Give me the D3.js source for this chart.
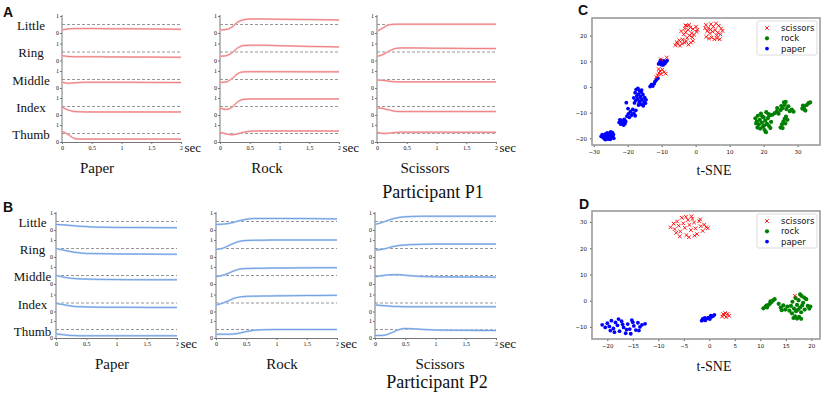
<!DOCTYPE html>
<html lang="en">
<head>
<meta charset="utf-8">
<title>Finger signals and t-SNE</title>
<script src="https://d3js.org/d3.v7.min.js"></script>
<style>
  body { margin: 0; background: #fff; }
  svg text { font-family: "Liberation Serif", "Times New Roman", serif; fill: #111; }
</style>
</head>
<body>
<script>

// ---- data: finger signals (values 0..1, sampled at times) ----
const times = [0, 0.1, 0.2, 0.3, 0.4, 0.5, 0.6, 0.8, 1, 1.5, 2];
const fingers = ["Little", "Ring", "Middle", "Index", "Thumb"];
const gestures = ["Paper", "Rock", "Scissors"];
const timeTicks = [0, 0.5, 1, 1.5, 2];
const threshold = 0.5;

const p1Paper = [
  [0.18, 0.24, 0.26, 0.26, 0.26, 0.26, 0.26, 0.25, 0.25, 0.24, 0.22],
  [0.28, 0.24, 0.22, 0.22, 0.22, 0.22, 0.22, 0.21, 0.21, 0.20, 0.19],
  [0.34, 0.28, 0.30, 0.33, 0.34, 0.34, 0.34, 0.34, 0.34, 0.33, 0.32],
  [0.45, 0.30, 0.21, 0.19, 0.18, 0.18, 0.18, 0.18, 0.18, 0.18, 0.18],
  [0.62, 0.45, 0.22, 0.17, 0.17, 0.17, 0.17, 0.17, 0.17, 0.17, 0.17]
];
const p1Rock = [
  [0.18, 0.20, 0.35, 0.65, 0.78, 0.82, 0.82, 0.82, 0.81, 0.79, 0.77],
  [0.25, 0.28, 0.45, 0.75, 0.88, 0.90, 0.90, 0.89, 0.87, 0.83, 0.80],
  [0.33, 0.35, 0.55, 0.85, 0.95, 0.96, 0.96, 0.96, 0.96, 0.95, 0.95],
  [0.40, 0.33, 0.45, 0.78, 0.92, 0.94, 0.94, 0.94, 0.94, 0.94, 0.94],
  [0.57, 0.48, 0.42, 0.48, 0.58, 0.63, 0.65, 0.65, 0.65, 0.65, 0.64]
];
const p1Scissors = [
  [0.10, 0.30, 0.48, 0.52, 0.52, 0.52, 0.52, 0.52, 0.52, 0.52, 0.52],
  [0.25, 0.35, 0.55, 0.70, 0.74, 0.74, 0.74, 0.73, 0.72, 0.71, 0.70],
  [0.47, 0.45, 0.40, 0.37, 0.36, 0.36, 0.36, 0.36, 0.36, 0.36, 0.36],
  [0.42, 0.38, 0.30, 0.22, 0.20, 0.20, 0.20, 0.20, 0.20, 0.20, 0.20],
  [0.58, 0.50, 0.52, 0.56, 0.58, 0.58, 0.58, 0.58, 0.58, 0.57, 0.57]
];
const p2Paper = [
  [0.33, 0.31, 0.28, 0.25, 0.22, 0.20, 0.18, 0.16, 0.15, 0.14, 0.13],
  [0.50, 0.42, 0.35, 0.28, 0.24, 0.21, 0.20, 0.19, 0.18, 0.17, 0.16],
  [0.50, 0.42, 0.36, 0.32, 0.30, 0.29, 0.28, 0.27, 0.26, 0.25, 0.25],
  [0.47, 0.42, 0.35, 0.30, 0.28, 0.27, 0.26, 0.25, 0.25, 0.24, 0.24],
  [0.24, 0.20, 0.16, 0.14, 0.13, 0.13, 0.13, 0.13, 0.13, 0.13, 0.13]
];
const p2Rock = [
  [0.33, 0.34, 0.38, 0.46, 0.56, 0.63, 0.67, 0.68, 0.68, 0.67, 0.65],
  [0.45, 0.50, 0.65, 0.82, 0.93, 0.97, 0.98, 0.99, 1.00, 1.00, 1.00],
  [0.43, 0.50, 0.62, 0.78, 0.88, 0.91, 0.92, 0.93, 0.94, 0.95, 0.96],
  [0.38, 0.48, 0.62, 0.78, 0.86, 0.89, 0.90, 0.91, 0.92, 0.94, 0.95],
  [0.22, 0.22, 0.22, 0.24, 0.30, 0.38, 0.44, 0.49, 0.50, 0.50, 0.50]
];
const p2Scissors = [
  [0.33, 0.42, 0.55, 0.66, 0.74, 0.78, 0.80, 0.81, 0.81, 0.81, 0.81],
  [0.40, 0.44, 0.52, 0.62, 0.68, 0.71, 0.73, 0.75, 0.76, 0.76, 0.76],
  [0.43, 0.48, 0.53, 0.55, 0.55, 0.52, 0.48, 0.44, 0.42, 0.41, 0.40],
  [0.38, 0.36, 0.33, 0.30, 0.29, 0.28, 0.28, 0.28, 0.28, 0.28, 0.28],
  [0.15, 0.15, 0.20, 0.35, 0.50, 0.56, 0.55, 0.50, 0.47, 0.45, 0.44]
];

// ---- data: t-SNE embeddings ----
const cScissors = [
  [-11.6,3.8],[-11.2,4.6],[-10.8,5.4],[-10.5,6.2],[-10.2,5.0],[-9.8,6.8],[-10.9,7.0],[-9.3,5.8],[-8.8,5.2],
  [-8.5,11.5],[-10.2,10.8],
  [-6.0,16.3],[-5.3,16.8],[-4.6,16.1],[-4.0,16.9],[-3.3,17.3],[-5.6,17.5],[-4.8,18.2],[-3.8,18.5],[-2.8,17.8],
  [-2.1,16.5],[-1.4,17.3],[-0.8,18.0],[-2.5,19.2],[-1.8,20.1],[-3.5,20.5],[-2.9,21.3],[-1.2,21.0],[-0.5,20.4],
  [0.3,21.5],[-2.2,22.3],[-3.2,22.8],[-1.5,23.2],[-0.8,22.6],[0.1,23.5],[-2.6,23.9],[-1.0,19.4],[-4.2,21.8],
  [0.5,22.3],[-3.0,24.0],[-1.9,24.2],
  [3.0,24.2],[3.8,23.0],[4.5,24.5],[5.2,23.6],[6.0,24.8],[6.8,23.9],[7.5,22.8],[3.4,21.8],[4.2,20.9],[5.0,21.6],
  [5.8,22.2],[6.5,21.2],[7.3,20.5],[7.9,21.9],[3.1,19.6],[3.9,18.9],[4.7,19.3],[5.5,18.6],[6.3,19.0],[7.1,18.6],
  [4.4,22.4],[6.2,20.1],[2.8,22.9]
];
const cRock = [
  [17.6,-12.2],[18.0,-13.5],[18.3,-11.2],[18.6,-14.6],[18.9,-12.8],[19.2,-10.4],[19.5,-13.9],[19.8,-15.5],
  [20.0,-11.8],[20.3,-16.8],[20.5,-13.1],[20.8,-9.8],[21.0,-14.4],[21.3,-12.1],[21.6,-15.2],[21.9,-11.0],
  [22.2,-13.6],[19.0,-16.2],[20.7,-17.6],[18.2,-15.8],[21.5,-10.6],[19.6,-11.4],[17.8,-14.2],[20.2,-15.0],[22.0,-16.0],
  [22.6,-10.8],[23.3,-10.2],[23.9,-9.5],[24.4,-10.4],[25.0,-9.0],[25.6,-8.2],[26.2,-7.0],[26.0,-6.0],[26.7,-8.6],
  [27.3,-7.5],[27.7,-9.4],[28.3,-8.8],[28.8,-9.6],[25.2,-7.4],[26.5,-5.8],[24.0,-8.2],
  [25.0,-15.8],[25.4,-14.6],[25.8,-13.5],[26.2,-12.4],[26.6,-11.5],[27.0,-12.8],[25.6,-16.0],[26.4,-14.2],
  [31.4,-8.4],[31.9,-7.6],[32.3,-9.2],[32.7,-7.0],[33.2,-6.3],[33.7,-6.0],[32.0,-8.8],[31.6,-7.2]
];
const cPaper = [
  [-27.8,-19.2],[-27.3,-19.6],[-27.0,-18.8],[-26.8,-19.9],[-26.5,-18.3],[-26.3,-19.4],[-26.1,-20.2],[-25.9,-18.9],
  [-25.7,-19.6],[-25.5,-18.1],[-25.3,-19.2],[-25.1,-20.4],[-24.9,-18.6],[-24.7,-19.5],[-24.5,-17.8],[-24.3,-19.0],
  [-24.1,-20.0],[-26.6,-20.5],[-25.0,-17.5],[-27.5,-18.6],[-26.0,-17.9],[-24.6,-18.3],[-25.6,-20.3],[-26.9,-20.1],[-24.2,-18.5],
  [-22.5,-13.8],[-22.0,-14.5],[-21.8,-13.0],[-21.4,-13.9],[-21.0,-12.6],[-20.8,-14.3],[-21.2,-14.8],[-22.3,-12.8],[-20.6,-13.4],
  [-20.2,-11.4],[-19.8,-10.5],[-19.5,-11.8],[-19.2,-9.6],[-18.8,-10.9],[-18.5,-8.7],[-18.2,-10.2],[-17.8,-11.2],[-19.9,-8.4],[-17.6,-9.1],
  [-20.4,-6.1],
  [-17.5,-1.0],[-17.0,-0.5],[-16.5,-1.5],[-17.8,-2.2],[-16.8,-2.8],[-16.0,-2.0],[-17.3,-3.5],[-16.2,-3.8],[-15.5,-3.0],
  [-18.2,-4.2],[-17.0,-4.6],[-15.8,-4.8],[-15.0,-4.1],[-16.4,-5.5],[-15.2,-5.8],[-17.6,-5.2],[-14.8,-6.3],[-16.0,-6.8],
  [-15.4,-7.3],[-16.8,-7.0],[-18.0,-6.2],[-14.6,-5.0],[-15.9,-1.2],[-16.6,-6.0],
  [-13.4,0.2],[-13.0,0.9],[-12.6,0.4],[-12.2,1.3],
  [-11.9,2.2],[-11.5,2.9],[-11.1,3.4],
  [-10.9,9.0],[-10.5,9.8],[-10.1,8.7],[-9.8,9.5],[-9.4,10.2],[-9.1,9.1],[-8.7,9.8],[-8.4,10.3],[-10.3,10.4],[-9.6,8.6]
];
const dScissors = [
  [-7.6,28.0],[-7.0,29.4],[-6.8,27.3],[-6.3,30.2],[-6.0,28.6],[-5.7,26.4],[-5.4,31.6],[-5.1,29.5],[-4.8,27.8],
  [-4.5,25.0],[-4.2,30.8],[-3.9,28.9],[-3.6,26.9],[-3.3,31.2],[-3.0,29.8],[-2.7,27.6],[-2.4,25.4],[-2.0,30.3],
  [-1.7,28.4],[-1.3,26.6],[-1.0,29.0],[-0.6,28.0],[-0.3,27.6],[-5.8,24.5],[-4.0,24.2],[-2.9,24.8],[-6.5,25.9],
  [-4.6,32.0],[-3.5,32.2],[-1.8,31.0],
  [2.5,-6.0],[2.9,-5.5],[3.3,-6.2],[3.6,-5.0],[3.9,-5.8],[3.1,-4.7],[2.7,-5.1],
  [16.8,1.9]
];
const dRock = [
  [10.6,-2.9],[11.0,-2.3],[11.3,-2.6],[11.6,-1.6],[11.9,-1.1],[12.2,-0.5],[12.5,0.1],[12.8,0.6],[11.2,-1.9],[12.0,-0.2],
  [13.6,-1.2],[14.0,-2.6],[14.5,-1.8],[14.9,-3.4],[15.3,-2.2],[15.7,-3.8],[14.2,-3.6],
  [16.0,-2.0],[16.3,-0.4],[16.6,-3.0],[16.9,1.0],[17.2,-1.6],[17.5,0.2],[17.8,-2.6],[18.1,1.8],[18.4,-0.8],
  [18.7,-3.4],[19.0,0.6],[19.3,-2.0],[19.6,-3.0],[17.0,-4.0],[18.0,-4.4],[16.8,-6.0],[17.2,-6.8],[17.6,-6.2],
  [18.0,-6.9],[16.5,-6.6],[17.8,2.4],[18.6,1.2],[16.2,-4.8],[19.8,-2.2],[17.4,-3.4],[18.2,-1.8]
];
const dPaper = [
  [-21.0,-9.2],[-20.0,-8.6],[-19.6,-9.8],[-19.2,-7.6],[-18.8,-10.6],[-18.4,-8.3],[-18.0,-9.4],[-17.6,-11.6],
  [-17.2,-7.8],[-16.8,-10.2],[-16.4,-12.4],[-16.0,-8.9],[-15.6,-10.8],[-15.2,-7.4],[-14.8,-9.6],[-14.4,-11.2],
  [-14.0,-8.4],[-13.6,-10.0],[-13.2,-9.2],[-12.6,-8.8],[-19.4,-11.4],[-17.8,-7.0],[-16.2,-11.0],[-15.4,-12.6],
  [-13.8,-11.4],[-20.4,-10.2],[-17.0,-9.0],[-15.0,-8.2],[-18.6,-12.0],
  [-1.5,-7.6],[-1.1,-7.2],[-0.8,-7.5],[-0.5,-6.8],[-0.2,-6.5],[0.1,-7.0],[0.4,-6.2],[0.7,-5.9],[1.0,-5.4],
  [-0.9,-6.6],[0.3,-5.7],[-1.3,-6.9]
];
const legendLabels = ["scissors", "rock", "paper"];

const svg = d3.select("body").append("svg")
  .attr("width", 824)
  .attr("height", 396);

// panel letters
[["A", 3, 17], ["B", 3, 212], ["C", 578, 15], ["D", 579, 209]].forEach(d => {
  svg.append("text").attr("x", d[1]).attr("y", d[2])
    .style("font-family", "'Liberation Sans', Arial, sans-serif")
    .style("font-weight", "bold").style("font-size", "14px")
    .text(d[0]);
});

// ---- finger signal panels ----
function signalBlock(cfg) {
  const g = svg.append("g");
  const rowY = fingers.map((f, i) => d3.scaleLinear().domain([0, 1])
    .range([cfg.zeros[i], cfg.zeros[i] - 17]));

  fingers.forEach((f, i) => {
    g.append("text")
      .attr("x", cfg.labelX).attr("y", cfg.labelY[i])
      .attr("text-anchor", "middle")
      .style("font-size", "13px")
      .text(f);
  });

  cfg.sets.forEach((set, k) => {
    const x0 = cfg.origins[k];
    const x = d3.scaleLinear().domain([0, 2]).range([x0, x0 + cfg.w]);
    const top = cfg.zeros[0] - 18, bottom = cfg.zeros[4];

    // vertical axis
    g.append("line").attr("x1", x0).attr("x2", x0).attr("y1", top).attr("y2", bottom)
      .attr("stroke", "#777").attr("stroke-width", 1);

    rowY.forEach((y, i) => {
      const ax = g.append("g").attr("transform", `translate(${x0},0)`)
        .call(d3.axisLeft(y).tickValues([0, 1]).tickSize(2).tickFormat(d3.format("d")));
      ax.select(".domain").remove();
      ax.selectAll("line").attr("stroke", "#777");
      ax.selectAll("text").style("font-size", "6px").style("font-family", "'Liberation Serif', serif")
        .attr("fill", "#333").attr("x", -3);

      // threshold
      g.append("line")
        .attr("x1", x(0)).attr("x2", x(2))
        .attr("y1", y(threshold)).attr("y2", y(threshold))
        .attr("stroke", "#8a8a8a").attr("stroke-width", 0.9)
        .attr("stroke-dasharray", "3,2");

      const line = d3.line()
        .x((v, j) => x(times[j]))
        .y(v => y(v))
        .curve(d3.curveMonotoneX);

      g.append("path").datum(set[i])
        .attr("d", line).attr("fill", "none")
        .attr("stroke", cfg.band).attr("stroke-width", 2);
      g.append("path").datum(set[i])
        .attr("d", line).attr("fill", "none")
        .attr("stroke", cfg.color).attr("stroke-width", 0.7).attr("opacity", 0.8);
    });

    const bx = g.append("g").attr("transform", `translate(0,${bottom})`)
      .call(d3.axisBottom(x).tickValues(timeTicks).tickSize(2).tickFormat(d => d3.format("")(d)));
    bx.select(".domain").attr("stroke", "#777");
    bx.selectAll("line").attr("stroke", "#777");
    bx.selectAll("text").style("font-size", "6px").style("font-family", "'Liberation Serif', serif")
      .attr("fill", "#333").attr("y", 4);

    g.append("text")
      .attr("x", x(2) + 3.5).attr("y", bottom + 10)
      .style("font-size", "13px")
      .text("sec");

    g.append("text")
      .attr("x", cfg.nameX[k]).attr("y", cfg.nameY)
      .attr("text-anchor", "middle")
      .style("font-size", "15px")
      .text(gestures[k]);
  });

  g.append("text")
    .attr("x", cfg.partX).attr("y", cfg.partY)
    .attr("text-anchor", "middle")
    .style("font-size", "18px")
    .text(cfg.participant);
}

signalBlock({
  sets: [p1Paper, p1Rock, p1Scissors],
  origins: [62, 220, 377], w: 119,
  zeros: [33, 60.5, 88, 115, 142],
  labelX: 31, labelY: [30, 57, 84.5, 112, 139],
  nameX: [97, 267, 425], nameY: 173,
  partX: 433, partY: 198,
  participant: "Participant P1",
  color: "#e4484c", band: "#f8c4c4"
});

signalBlock({
  sets: [p2Paper, p2Rock, p2Scissors],
  origins: [56, 216, 375], w: 121,
  zeros: [230, 257, 284, 311.5, 338],
  labelX: 32.5, labelY: [227, 253.5, 281, 309, 336],
  nameX: [112, 282, 440], nameY: 369,
  partX: 437, partY: 388,
  participant: "Participant P2",
  color: "#3b7bd6", band: "#b6d0f2"
});

// ---- t-SNE panels ----
function tsne(cfg) {
  const g = svg.append("g");
  const x = d3.scaleLinear().domain(cfg.xDomain).range([cfg.left, cfg.right]);
  const y = d3.scaleLinear().domain(cfg.yDomain).range([cfg.bottom, cfg.top]);

  const xa = g.append("g").attr("transform", `translate(0,${cfg.bottom})`)
    .call(d3.axisBottom(x).tickValues(cfg.xTicks).tickSize(2).tickFormat(d3.format("d")));
  const ya = g.append("g").attr("transform", `translate(${cfg.left},0)`)
    .call(d3.axisLeft(y).tickValues(cfg.yTicks).tickSize(2).tickFormat(d3.format("d")));
  [xa, ya].forEach(a => {
    a.select(".domain").remove();
    a.selectAll("line").attr("stroke", "#555");
    a.selectAll("text").style("font-size", "5.5px")
      .style("font-family", "'DejaVu Sans', sans-serif").attr("fill", "#333");
  });

  g.selectAll("circle.paper").data(cfg.paper).enter().append("circle")
    .attr("class", "paper")
    .attr("cx", d => x(d[0])).attr("cy", d => y(d[1])).attr("r", 1.9)
    .attr("fill", "#0000ff");
  g.selectAll("circle.rock").data(cfg.rock).enter().append("circle")
    .attr("class", "rock")
    .attr("cx", d => x(d[0])).attr("cy", d => y(d[1])).attr("r", 2.1)
    .attr("fill", "#008000");
  g.selectAll("path.scissors").data(cfg.scissors).enter().append("path")
    .attr("class", "scissors")
    .attr("transform", d => `translate(${x(d[0])},${y(d[1])})`)
    .attr("d", "M-1.8,-1.8L1.8,1.8M-1.8,1.8L1.8,-1.8")
    .attr("stroke", "#ff0000").attr("stroke-width", 0.9);

  g.append("rect")
    .attr("x", cfg.left).attr("y", cfg.top)
    .attr("width", cfg.right - cfg.left).attr("height", cfg.bottom - cfg.top)
    .attr("fill", "none").attr("stroke", "#9a9a9a").attr("stroke-width", 1.6);

  // legend
  const lg = g.append("g").attr("transform", `translate(${cfg.right - 63},${cfg.top + 3})`);
  lg.append("rect").attr("width", 60).attr("height", 34).attr("rx", 2)
    .attr("fill", "#fff").attr("stroke", "#d0d0d0").attr("stroke-width", 0.8);
  legendLabels.forEach((l, i) => {
    const yy = 7 + i * 10.3;
    if (i === 0) {
      lg.append("path").attr("transform", `translate(10,${yy})`)
        .attr("d", "M-1.8,-1.8L1.8,1.8M-1.8,1.8L1.8,-1.8")
        .attr("stroke", "#ff0000").attr("stroke-width", 0.9);
    } else {
      lg.append("circle").attr("cx", 10).attr("cy", yy).attr("r", i === 1 ? 2.1 : 1.9)
        .attr("fill", i === 1 ? "#008000" : "#0000ff");
    }
    lg.append("text").attr("x", 24).attr("y", yy + 3)
      .style("font-family", "'DejaVu Sans', sans-serif").style("font-size", "8.5px")
      .attr("fill", "#222")
      .text(l);
  });

  g.append("text")
    .attr("x", cfg.labelX).attr("y", cfg.labelY)
    .attr("text-anchor", "middle")
    .style("font-size", "14px")
    .text("t-SNE");
}

tsne({
  left: 592, right: 820, top: 18, bottom: 145,
  xDomain: [-30.5, 36.6], yDomain: [-22.6, 26.9],
  xTicks: [-30, -20, -10, 0, 10, 20, 30], yTicks: [-20, -10, 0, 10, 20],
  scissors: cScissors, rock: cRock, paper: cPaper,
  labelX: 714, labelY: 175
});

tsne({
  left: 592, right: 820, top: 211, bottom: 339,
  xDomain: [-23.0, 21.7], yDomain: [-14.6, 34.2],
  xTicks: [-20, -15, -10, -5, 0, 5, 10, 15, 20], yTicks: [-10, 0, 10, 20, 30],
  scissors: dScissors, rock: dRock, paper: dPaper,
  labelX: 714, labelY: 371
});

</script>
</body>
</html>
